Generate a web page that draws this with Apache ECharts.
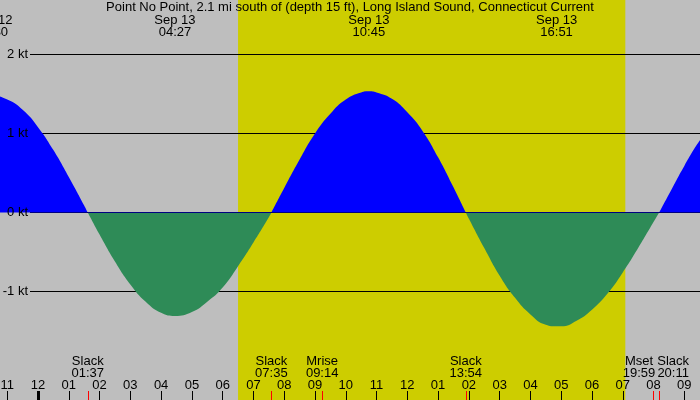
<!DOCTYPE html>
<html>
<head>
<meta charset="utf-8">
<script src="https://cdn.jsdelivr.net/npm/echarts@6.0.0/dist/echarts.min.js"></script>
<style>
html,body{margin:0;padding:0;background:#bebebe;}
#chart{width:700px;height:400px;}
</style>
</head>
<body>
<div id="chart"></div>
<script>
// ---- data (hours relative to midnight Sep 13) ----
const titleText = 'Point No Point, 2.1 mi south of (depth 15 ft), Long Island Sound, Connecticut Current';

const flowHours = [-2.5, -2.0, -1.5, -1.0, -0.5, 0.0, 0.5, 1.0, 1.5, 1.617,
  2.0, 2.5, 3.0, 3.5, 4.0, 4.45, 5.0, 5.5, 6.0, 6.5, 7.0, 7.5, 7.583,
  8.0, 8.5, 9.0, 9.5, 10.0, 10.5, 10.75, 11.0, 11.5, 12.0, 12.5, 13.0, 13.5, 13.9,
  14.0, 14.5, 15.0, 15.5, 16.0, 16.5, 16.85, 17.0, 17.5, 18.0, 18.5, 19.0, 19.5, 20.0, 20.183,
  20.5, 21.0, 21.5, 22.0];
const flowKnots = [1.25, 1.42, 1.48, 1.43, 1.30, 1.08, 0.79, 0.45, 0.09, 0.0,
  -0.28, -0.62, -0.91, -1.13, -1.27, -1.31, -1.26, -1.13, -0.95, -0.68, -0.38, -0.06, 0.0,
  0.31, 0.67, 1.00, 1.25, 1.43, 1.52, 1.535, 1.52, 1.44, 1.27, 1.03, 0.70, 0.32, 0.0,
  -0.08, -0.45, -0.80, -1.08, -1.29, -1.42, -1.44, -1.44, -1.37, -1.23, -1.03, -0.76, -0.45, -0.12, 0.0,
  0.23, 0.59, 0.91, 1.17];

const peakDates = ['Sep 12', 'Sep 13', 'Sep 13', 'Sep 13'];
const peakClock = ['22:30', '04:27', '10:45', '16:51'];

const eventNames = ['Slack', 'Slack', 'Mrise', 'Slack', 'Mset', 'Slack'];
const eventClock = ['01:37', '07:35', '09:14', '13:54', '19:59', '20:11'];

const sunriseClock = '06:30';
const sunsetClock = '19:05';

const speedTicks = [2, 1, 0, -1];
const hourTicks = [-2, -1, 0, 1, 2, 3, 4, 5, 6, 7, 8, 9, 10, 11, 12, 13, 14, 15, 16, 17, 18, 19, 20, 21];
const midnightTicks = [0];

// ---- helpers ----
function clockToHours(c, dayOffset) {
  const p = c.split(':');
  return (+p[0]) + (+p[1]) / 60 + (dayOffset || 0) * 24;
}
const peakHours = peakClock.map((c, i) => clockToHours(c, peakDates[i] === 'Sep 12' ? -1 : 0));
const eventHours = eventClock.map(c => clockToHours(c));
const sunrise = clockToHours(sunriseClock);
const sunset = clockToHours(sunsetClock);
const flowData = flowHours.map((h, i) => [h, flowKnots[i]]);

// labels of events closer than an hour are pushed apart (left one left, right one right)
const eventShift = eventHours.map((h, i) => {
  if (i + 1 < eventHours.length && eventHours[i + 1] - h < 1) return 'l';
  if (i > 0 && h - eventHours[i - 1] < 1) return 'r';
  return 'c';
});
const eventHoursA = eventHours.filter((h, i) => eventShift[i] !== 'r');
const eventHoursB = eventHours.filter((h, i) => eventShift[i] === 'r');

function findIdx(arr, v) {
  let best = 0, bd = Infinity;
  arr.forEach((h, i) => { const d = Math.abs(h - v); if (d < bd) { bd = d; best = i; } });
  return best;
}

const FONT = 'Liberation Sans';
const X_MIN = -2.5344, X_MAX = 21.510;
const Y_MIN = -2.3734, Y_MAX = 2.6899;

function baseX(extra) {
  return Object.assign({
    type: 'value', min: X_MIN, max: X_MAX, gridIndex: 0, position: 'bottom', z: 10,
    axisLine: { show: false, onZero: false }, splitLine: { show: false },
    axisTick: { show: false }, axisLabel: { show: false }
  }, extra);
}

const richStyles = {
  c: { fontFamily: FONT, fontSize: 13, lineHeight: 12, color: '#000' },
  l: { fontFamily: FONT, fontSize: 13, lineHeight: 12, color: '#000', padding: [0, 28, 0, 0] },
  r: { fontFamily: FONT, fontSize: 13, lineHeight: 12, color: '#000', padding: [0, 0, 0, 28] }
};
function eventLabelAxis(values) {
  return baseX({
    axisLabel: {
      show: true, inside: true, margin: 21, customValues: values, hideOverlap: false,
      fontFamily: FONT, fontSize: 13, color: '#000', lineHeight: 12,
      formatter: function (v) {
        const i = findIdx(eventHours, v);
        const s = eventShift[i];
        return '{' + s + '|' + eventNames[i] + '}\n{' + s + '|' + eventClock[i] + '}';
      },
      rich: richStyles
    }
  });
}

const chart = echarts.init(document.getElementById('chart'), null, { renderer: 'canvas' });
chart.setOption({
  animation: false,
  backgroundColor: '#bebebe',
  textStyle: { fontFamily: FONT, color: '#000' },
  title: {
    text: titleText, left: 'center', top: 1, padding: 0, z: 10,
    textStyle: { fontFamily: FONT, fontSize: 13, fontWeight: 'normal', color: '#000', lineHeight: 12 }
  },
  grid: { left: -40, right: 0, top: 0, bottom: 0, containLabel: false, outerBoundsMode: 'none' },
  visualMap: {
    type: 'piecewise', show: false, seriesId: 'flow', dimension: 1,
    pieces: [{ gte: -50, lt: 0, color: '#2e8b57' }, { gte: 0, lte: 50, color: '#0000ff' }]
  },
  xAxis: [
    baseX({
      axisTick: { show: true, inside: true, length: 9, customValues: hourTicks, lineStyle: { color: '#000', width: 1 } },
      axisLabel: {
        show: true, inside: true, margin: 9, customValues: hourTicks, hideOverlap: false,
        fontFamily: FONT, fontSize: 13, color: '#000', lineHeight: 12,
        formatter: function (v) {
          let h = ((Math.round(v) % 12) + 12) % 12;
          if (h === 0) h = 12;
          return (h < 10 ? '0' : '') + h;
        }
      }
    }),
    baseX({
      axisTick: { show: true, inside: true, length: 9, customValues: midnightTicks, lineStyle: { color: '#000', width: 3 } }
    }),
    baseX({
      axisTick: { show: true, inside: true, length: 9, customValues: eventHours, lineStyle: { color: '#ff0000', width: 1 } }
    }),
    eventLabelAxis(eventHoursA),
    eventLabelAxis(eventHoursB),
    baseX({
      position: 'top',
      axisLabel: {
        show: true, inside: true, margin: 14, customValues: peakHours, hideOverlap: false,
        fontFamily: FONT, fontSize: 13, color: '#000', lineHeight: 12,
        formatter: function (v) {
          const i = findIdx(peakHours, v);
          return peakDates[i] + '\n' + peakClock[i];
        }
      }
    })
  ],
  yAxis: [{
    type: 'value', min: Y_MIN, max: Y_MAX, position: 'left', offset: -70, z: 10,
    axisLine: { show: false, onZero: false }, axisTick: { show: false }, splitLine: { show: false },
    axisLabel: {
      show: true, margin: 2, customValues: speedTicks,
      fontFamily: FONT, fontSize: 13, color: '#000',
      formatter: function (v) { return v + ' kt'; }
    }
  }],
  series: [{
    // daylight band
    id: 'daylight',
    type: 'line',
    data: [],
    z: 1,
    silent: true,
    markArea: {
      silent: true, z: 0,
      itemStyle: { color: '#cdcd00', opacity: 1 },
      data: [[{ xAxis: sunrise }, { xAxis: sunset }]]
    }
  }, {
    id: 'flow',
    type: 'line',
    data: flowData,
    smooth: 0.5,
    symbol: 'none',
    z: 5,
    silent: true,
    lineStyle: { width: 0 },
    areaStyle: { opacity: 1 }
  }]
});

// reference lines (drawn beneath the current fill) start just right of the "kt" labels
const lineStartX = chart.convertFromPixel({ gridIndex: 0 }, [30, 0])[0];
chart.setOption({
  series: speedTicks.map(v => ({
    id: 'ref' + v,
    type: 'line',
    z: 2,
    silent: true,
    symbol: 'none',
    lineStyle: { color: '#000', width: 1, type: 'solid' },
    data: [[lineStartX, v], [X_MAX, v]]
  }))
});
</script>
</body>
</html>
